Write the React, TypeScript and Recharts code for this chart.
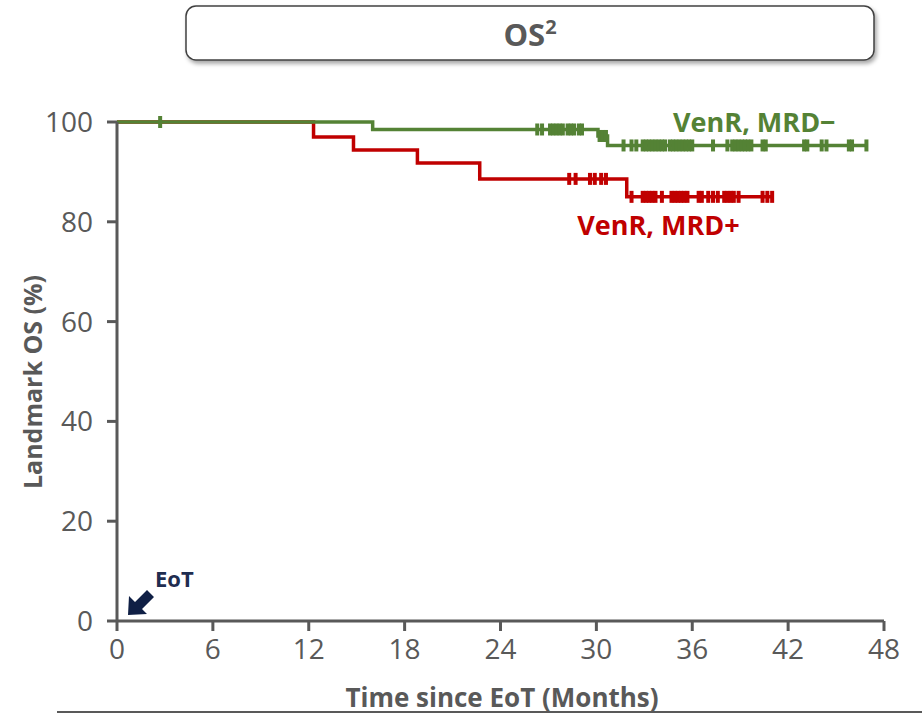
import React from 'react';
import { ComposedChart, Line, Scatter, XAxis, YAxis, ReferenceDot } from 'recharts';

// step curves (time in months, landmark OS %)
const mrdNegTimes = [0, 16.0, 30.1, 30.7, 46.9];
const mrdNegSurv = [100, 98.5, 97.2, 95.3, 95.3];
const mrdPosTimes = [0, 12.3, 14.8, 18.8, 22.7, 31.9, 41.0];
const mrdPosSurv = [100, 97.0, 94.4, 91.8, 88.6, 85.0, 85.0];

// censoring marks
const mrdNegCensor = [
  2.7, 26.3, 26.6, 27.1, 27.3, 27.5, 27.7, 27.9, 28.2, 28.4, 28.6, 28.9, 29.1,
  30.2, 30.4, 30.6, 31.7, 32.2, 32.5, 32.9, 33.1, 33.3, 33.5, 33.7, 33.9, 34.1,
  34.3, 34.6, 34.8, 35.0, 35.2, 35.4, 35.6, 35.8, 36.0, 37.3, 38.2, 38.5, 38.7,
  38.9, 39.1, 39.3, 39.5, 39.7, 40.4, 40.6, 43.0, 43.2, 44.1, 44.4, 45.8, 46.0, 46.9,
];
const mrdPosCensor = [
  28.3, 28.7, 29.6, 29.9, 30.3, 30.6, 32.2, 32.9, 33.1, 33.3, 33.5, 33.7, 34.1,
  34.7, 34.9, 35.1, 35.3, 35.5, 35.7, 36.4, 36.6, 37.0, 37.3, 37.6, 38.0, 38.2,
  38.4, 38.6, 38.9, 40.4, 40.7, 41.0,
];

const xTicks = [0, 6, 12, 18, 24, 30, 36, 42, 48];
const yTicks = [0, 20, 40, 60, 80, 100];

const GREEN = '#548235';
const RED = '#C00000';
const GREY = '#595959';

const toCurve = (times: number[], surv: number[]) =>
  times.map((t, i) => ({ t, s: surv[i] }));

const survAt = (times: number[], surv: number[], t: number) => {
  let v = surv[0];
  times.forEach((tt, i) => {
    if (tt <= t) v = surv[i];
  });
  return v;
};

const toCensor = (cens: number[], times: number[], surv: number[]) =>
  cens.map((t) => ({ t, s: survAt(times, surv, t) }));

const negCurve = toCurve(mrdNegTimes, mrdNegSurv);
const posCurve = toCurve(mrdPosTimes, mrdPosSurv);
const negCens = toCensor(mrdNegCensor, mrdNegTimes, mrdNegSurv);
const posCens = toCensor(mrdPosCensor, mrdPosTimes, mrdPosSurv);

const censorMark = (color: string) => (props: any) => (
  <rect x={props.cx - 2} y={props.cy - 6} width={4} height={12} fill={color} />
);

const seriesLabel = (text: string, color: string) => (props: any) => {
  const { viewBox } = props;
  return (
    <text
      x={viewBox.x}
      y={viewBox.y}
      dy={10}
      textAnchor="start"
      fill={color}
      fontFamily="Open Sans"
      fontWeight={700}
      fontSize={27}
    >
      {text}
    </text>
  );
};

export default function App() {
  return (
    <div style={{ position: 'absolute', left: 0, top: 0, width: 922, height: 714, background: '#fff' }}>
      <ComposedChart
        width={922}
        height={714}
        margin={{ top: 122, right: 38, bottom: 53, left: 0 }}
      >
        <XAxis
          type="number"
          dataKey="t"
          domain={[0, 48]}
          ticks={xTicks}
          allowDataOverflow
          height={40}
          axisLine={{ stroke: GREY, strokeWidth: 3 }}
          tickLine={{ stroke: GREY, strokeWidth: 3 }}
          tickSize={10}
          tickMargin={8}
          tick={{ fill: GREY, fontSize: 28, fontFamily: 'Open Sans' }}
        />
        <YAxis
          type="number"
          dataKey="s"
          domain={[0, 100]}
          ticks={yTicks}
          width={117}
          axisLine={{ stroke: GREY, strokeWidth: 3 }}
          tickLine={{ stroke: GREY, strokeWidth: 3 }}
          tickSize={10}
          tickMargin={14}
          tick={{ fill: GREY, fontSize: 28, fontFamily: 'Open Sans' }}
        />
        <Line
          data={posCurve}
          dataKey="s"
          type="stepAfter"
          stroke={RED}
          strokeWidth={3.5}
          dot={false}
          isAnimationActive={false}
        />
        <Line
          data={negCurve}
          dataKey="s"
          type="stepAfter"
          stroke={GREEN}
          strokeWidth={3.5}
          dot={false}
          isAnimationActive={false}
        />
        <Scatter data={posCens} dataKey="s" shape={censorMark(RED)} isAnimationActive={false} />
        <Scatter data={negCens} dataKey="s" shape={censorMark(GREEN)} isAnimationActive={false} />
        <ReferenceDot x={34.8} y={100} r={0} label={seriesLabel('VenR, MRD\u2212', GREEN)} />
        <ReferenceDot x={28.8} y={79.4} r={0} label={seriesLabel('VenR, MRD+', RED)} />
      </ComposedChart>
      <svg
        width={922}
        height={714}
        style={{ position: 'absolute', left: 0, top: 0, pointerEvents: 'none' }}
      >
        <defs>
          <filter id="shadow" x="-5%" y="-30%" width="110%" height="170%">
            <feDropShadow dx={2} dy={3} stdDeviation={2} floodColor="#000" floodOpacity={0.35} />
          </filter>
        </defs>
        <rect x={186} y={6} width={688} height={54} rx={10} fill="#fff" stroke="#404040" strokeWidth={1.5} filter="url(#shadow)" />
        <text x={530} y={46} textAnchor="middle" fill={GREY} fontFamily="Open Sans" fontWeight={700} fontSize={31}>
          OS<tspan dy={-12} fontSize={20}>2</tspan>
        </text>
        <text
          x={32}
          y={382}
          transform="rotate(-90 32 382)"
          textAnchor="middle"
          dominantBaseline="central"
          fill={GREY}
          fontFamily="Open Sans"
          fontWeight={700}
          fontSize={25}
        >
          Landmark OS (%)
        </text>
        <text x={502} y={707} textAnchor="middle" fill={GREY} fontFamily="Open Sans" fontWeight={700} fontSize={26}>
          Time since EoT (Months)
        </text>
        <line x1={57} y1={712} x2={922} y2={712} stroke={GREY} strokeWidth={2} />
        <polygon
          points="128,615 129,596 135,602 147,590 154,597 142,609 147,614"
          fill="#0f1f45"
        />
        <text x={155} y={587} fill="#1f2d50" fontFamily="Open Sans" fontWeight={700} fontSize={22}>
          EoT
        </text>
      </svg>
    </div>
  );
}
